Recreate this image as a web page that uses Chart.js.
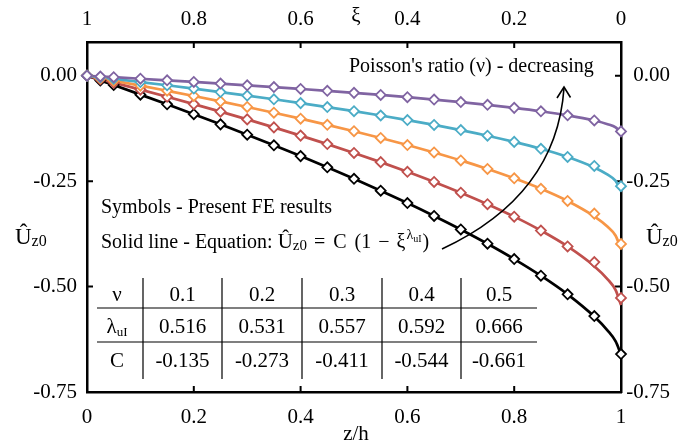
<!DOCTYPE html>
<html><head><meta charset="utf-8">
<script src="https://cdn.jsdelivr.net/npm/chart.js@4.4.1/dist/chart.umd.min.js"></script>
<style>html,body{margin:0;padding:0;background:#fff}#wrap{width:689px;height:446px}</style>
</head><body><div id="wrap"><canvas id="c" width="689" height="446"></canvas></div>
<script>
// ---- data ----
const zFE = [0, 0.025, 0.05, 0.1, 0.15, 0.2, 0.25, 0.3, 0.35, 0.4, 0.45, 0.5, 0.55, 0.6, 0.65, 0.7, 0.75, 0.8, 0.85, 0.9, 0.95, 1];
const feNu01 = [0, -0.0018, -0.0035, -0.0071, -0.0109, -0.0147, -0.0186, -0.0227, -0.0269, -0.0313, -0.0358, -0.0406, -0.0456, -0.0509, -0.0565, -0.0625, -0.0690, -0.0762, -0.0843, -0.0939, -0.106, -0.132];
const feNu02 = [0, -0.0036, -0.0073, -0.0149, -0.0226, -0.0305, -0.0387, -0.0471, -0.0558, -0.0649, -0.0743, -0.0841, -0.0943, -0.1052, -0.1167, -0.1289, -0.1422, -0.1569, -0.1733, -0.1926, -0.214, -0.262];
const feNu03 = [0, -0.0058, -0.0116, -0.0234, -0.0356, -0.0480, -0.0609, -0.0741, -0.0877, -0.1018, -0.1164, -0.1316, -0.1476, -0.1643, -0.1820, -0.2008, -0.2211, -0.2433, -0.2681, -0.2970, -0.327, -0.399];
const feNu04 = [0, -0.0081, -0.0163, -0.0329, -0.0499, -0.0673, -0.0852, -0.1035, -0.1225, -0.1420, -0.1621, -0.1831, -0.2049, -0.2278, -0.2518, -0.2773, -0.3046, -0.3342, -0.3671, -0.4048, -0.442, -0.527];
const feNu05 = [0, -0.0111, -0.0222, -0.0448, -0.0678, -0.0913, -0.1153, -0.1398, -0.1649, -0.1906, -0.2171, -0.2444, -0.2726, -0.3019, -0.3325, -0.3645, -0.3984, -0.4347, -0.4742, -0.5184, -0.570, -0.660];

const zLine = [0, 0.025, 0.05, 0.1, 0.15, 0.2, 0.25, 0.3, 0.35, 0.4, 0.45, 0.5, 0.55, 0.6, 0.65, 0.7, 0.75, 0.8, 0.85, 0.9, 0.95, 0.975, 0.99, 1];
const eqNu01 = [0, -0.0018, -0.0035, -0.0071, -0.0109, -0.0147, -0.0186, -0.0227, -0.0269, -0.0313, -0.0358, -0.0406, -0.0456, -0.0509, -0.0565, -0.0625, -0.0690, -0.0762, -0.0843, -0.0939, -0.1062, -0.1149, -0.1225, -0.135];
const eqNu02 = [0, -0.0036, -0.0073, -0.0149, -0.0226, -0.0305, -0.0387, -0.0471, -0.0558, -0.0649, -0.0743, -0.0841, -0.0943, -0.1052, -0.1167, -0.1289, -0.1422, -0.1569, -0.1733, -0.1926, -0.2174, -0.2345, -0.2493, -0.273];
const eqNu03 = [0, -0.0058, -0.0116, -0.0234, -0.0356, -0.0480, -0.0609, -0.0741, -0.0877, -0.1018, -0.1164, -0.1316, -0.1476, -0.1643, -0.1820, -0.2008, -0.2211, -0.2433, -0.2681, -0.2970, -0.3335, -0.3583, -0.3794, -0.411];
const eqNu04 = [0, -0.0081, -0.0163, -0.0329, -0.0499, -0.0673, -0.0852, -0.1035, -0.1225, -0.1420, -0.1621, -0.1831, -0.2049, -0.2278, -0.2518, -0.2773, -0.3046, -0.3342, -0.3671, -0.4048, -0.4517, -0.4827, -0.5084, -0.544];
const eqNu05 = [0, -0.0111, -0.0222, -0.0448, -0.0678, -0.0913, -0.1153, -0.1398, -0.1649, -0.1906, -0.2171, -0.2444, -0.2726, -0.3019, -0.3325, -0.3645, -0.3984, -0.4347, -0.4742, -0.5184, -0.5711, -0.6044, -0.6302, -0.661];

const xTicks = [0, 0.2, 0.4, 0.6, 0.8, 1];
const xiTicks = [1, 0.8, 0.6, 0.4, 0.2, 0];
const yTicks = [0, -0.25, -0.5, -0.75];

const tableNu = ['0.1', '0.2', '0.3', '0.4', '0.5'];
const tableLambda = ['0.516', '0.531', '0.557', '0.592', '0.666'];
const tableC = ['-0.135', '-0.273', '-0.411', '-0.544', '-0.661'];

// ---- styles ----
const colors = ['#8064A2', '#4BACC6', '#F79646', '#C0504D', '#000000'];
const feSeries = [feNu01, feNu02, feNu03, feNu04, feNu05];
const eqSeries = [eqNu01, eqNu02, eqNu03, eqNu04, eqNu05];
const SERIF = '"Liberation Serif", "Times New Roman", serif';

const datasets = [];
feSeries.forEach((arr, k) => {
  datasets.push({
    data: zFE.map((z, i) => ({x: z, y: arr[i]})),
    showLine: false,
    pointStyle: 'rectRot',
    pointRadius: 5,
    pointBorderWidth: 1.8,
    pointBorderColor: colors[k],
    pointBackgroundColor: '#ffffff',
    borderColor: colors[k],
    clip: false
  });
});
eqSeries.forEach((arr, k) => {
  datasets.push({
    data: zLine.map((z, i) => ({x: z, y: arr[i]})),
    showLine: true,
    pointRadius: 0,
    borderWidth: 2.7,
    borderColor: colors[k],
    cubicInterpolationMode: 'monotone',
    clip: false
  });
});

function txt(ctx, s, x, y, size, align) {
  ctx.font = size + 'px ' + SERIF;
  ctx.textAlign = align || 'left';
  ctx.textBaseline = 'alphabetic';
  ctx.fillText(s, x, y);
  return ctx.measureText(s).width;
}
function uz0(ctx, x, y, big, small) {
  let w = txt(ctx, 'Û', x, y, big || 22);
  w += txt(ctx, 'z0', x + w, y + 2, small || 15);
  return w;
}

const decor = {
  id: 'decor',
  beforeDatasetsDraw(chart) {
    const ctx = chart.ctx;
    const a = chart.chartArea;
    const sx = chart.scales.x, sx2 = chart.scales.x2, sy = chart.scales.y;
    ctx.save();
    ctx.strokeStyle = '#000';
    ctx.lineWidth = 2;
    ctx.beginPath();
    xTicks.slice(1, -1).forEach(v => { const p = sx.getPixelForValue(v); ctx.moveTo(p, a.bottom); ctx.lineTo(p, a.bottom - 6); });
    xiTicks.slice(1, -1).forEach(v => { const p = sx2.getPixelForValue(v); ctx.moveTo(p, a.top); ctx.lineTo(p, a.top + 6); });
    yTicks.slice(0, -1).forEach(v => { const p = sy.getPixelForValue(v); ctx.moveTo(a.left, p); ctx.lineTo(a.left + 6, p); ctx.moveTo(a.right, p); ctx.lineTo(a.right - 6, p); });
    ctx.stroke();
    ctx.restore();
  },
  afterDraw(chart) {
    const ctx = chart.ctx;
    ctx.save();
    ctx.fillStyle = '#000';
    ctx.strokeStyle = '#000';
    // axis titles
    txt(ctx, 'ξ', 356, 22, 21, 'center');
    txt(ctx, 'z/h', 356, 440, 21, 'center');
    uz0(ctx, 15, 244, 23, 16);
    uz0(ctx, 646, 244, 23, 16);
    // annotations
    txt(ctx, "Poisson's ratio (ν) - decreasing", 349, 72, 20);
    txt(ctx, 'Symbols - Present FE results', 101, 213, 20);
    const y = 248;
    let x = 101;
    x += txt(ctx, 'Solid line - Equation: ', x, y, 20);
    x += uz0(ctx, x, y, 21, 15) + 7;
    x += txt(ctx, '=', x, y, 20) + 8;
    x += txt(ctx, 'C', x, y, 20) + 8;
    x += txt(ctx, '(1', x, y, 20) + 7;
    x += txt(ctx, '−', x, y, 20) + 7;
    x += txt(ctx, 'ξ', x, y, 20);
    x += txt(ctx, 'λ', x + 1, y - 9, 14) + 1;
    x += txt(ctx, 'uI', x, y - 6, 10);
    txt(ctx, ')', x + 1, y, 20);
    // arrow
    ctx.lineWidth = 1.6;
    ctx.beginPath();
    ctx.moveTo(442, 249);
    ctx.bezierCurveTo(500, 222, 558, 175, 564, 88);
    ctx.stroke();
    ctx.beginPath();
    ctx.moveTo(557, 98);
    ctx.lineTo(564, 87);
    ctx.lineTo(570.5, 97.5);
    ctx.stroke();
    // table
    const cols = [97, 143, 222, 302, 382, 461, 537];
    const rowY = [294, 326, 360];
    ctx.lineWidth = 1.2;
    ctx.beginPath();
    [308, 342].forEach(yy => { ctx.moveTo(cols[0], yy); ctx.lineTo(cols[6], yy); });
    cols.slice(1, 6).forEach(xx => { ctx.moveTo(xx, 278); ctx.lineTo(xx, 379); });
    ctx.stroke();
    const fs = 21;
    const cx0 = 117;
    txt(ctx, 'ν', cx0, rowY[0] + 7, fs, 'center');
    ctx.font = fs + 'px ' + SERIF;
    const lw = ctx.measureText('λ').width;
    ctx.font = '13px ' + SERIF;
    const sw = ctx.measureText('uI').width;
    const lx = cx0 - (lw + sw) / 2;
    txt(ctx, 'λ', lx, rowY[1] + 7, fs);
    txt(ctx, 'uI', lx + lw, rowY[1] + 10, 13);
    txt(ctx, 'C', cx0, rowY[2] + 7, fs, 'center');
    const rows = [tableNu, tableLambda, tableC];
    rows.forEach((r, ri) => r.forEach((s, ci) => {
      txt(ctx, s, (cols[ci + 1] + cols[ci + 2]) / 2, rowY[ri] + 7, fs, 'center');
    }));
    ctx.restore();
  }
};

const tickFont = {family: SERIF, size: 21};
function fixedTicks(arr) { return s => { s.ticks = arr.map(v => ({value: v})); }; }

new Chart(document.getElementById('c'), {
  type: 'line',
  data: {datasets},
  options: {
    responsive: false,
    animation: false,
    devicePixelRatio: 1,
    layout: {padding: {left: 0, right: 19, top: 0, bottom: 0}},
    plugins: {legend: {display: false}, tooltip: {enabled: false}},
    elements: {line: {tension: 0}},
    scales: {
      x: {
        type: 'linear', position: 'bottom', min: 0, max: 1,
        afterBuildTicks: fixedTicks(xTicks),
        afterFit: s => { s.height = 54; },
        ticks: {font: tickFont, color: '#000', padding: 13, maxRotation: 0, callback: v => String(v)},
        grid: {display: false, drawTicks: false},
        border: {display: true, color: '#000', width: 2.5}
      },
      x2: {
        type: 'linear', position: 'top', min: 0, max: 1, reverse: true,
        afterBuildTicks: fixedTicks(xiTicks),
        afterFit: s => { s.height = 42; },
        ticks: {font: tickFont, color: '#000', padding: 10, maxRotation: 0, callback: v => String(v)},
        grid: {display: false, drawTicks: false},
        border: {display: true, color: '#000', width: 2.5}
      },
      y: {
        type: 'linear', position: 'left', min: -0.75, max: 0.08,
        afterBuildTicks: fixedTicks(yTicks),
        afterFit: s => { s.width = 87; },
        ticks: {font: tickFont, color: '#000', padding: 10, callback: v => v.toFixed(2)},
        grid: {display: false, drawTicks: false},
        border: {display: true, color: '#000', width: 2.5}
      },
      y2: {
        type: 'linear', position: 'right', min: -0.75, max: 0.08,
        afterBuildTicks: fixedTicks(yTicks),
        afterFit: s => { s.width = 49; },
        ticks: {font: tickFont, color: '#000', padding: 12, crossAlign: 'far', callback: v => v.toFixed(2)},
        grid: {display: false, drawTicks: false},
        border: {display: true, color: '#000', width: 2.5}
      }
    }
  },
  plugins: [decor]
});
</script>
</body></html>
